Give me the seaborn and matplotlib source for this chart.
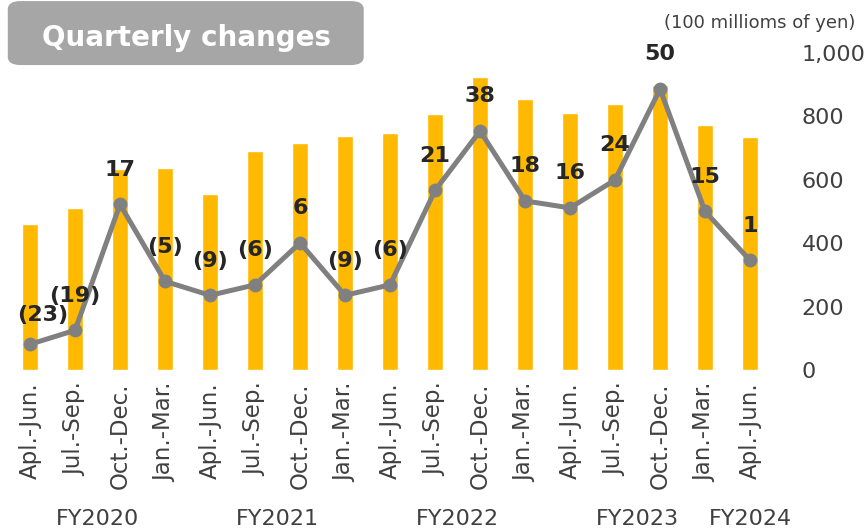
import pandas as pd
import matplotlib.pyplot as plt
import seaborn as sns
from matplotlib.patches import FancyBboxPatch

# Quarterly data (100 millions of yen)
quarters = ["Apl.-Jun.", "Jul.-Sep.", "Oct.-Dec.", "Jan.-Mar.",
            "Apl.-Jun.", "Jul.-Sep.", "Oct.-Dec.", "Jan.-Mar.",
            "Apl.-Jun.", "Jul.-Sep.", "Oct.-Dec.", "Jan.-Mar.",
            "Apl.-Jun.", "Jul.-Sep.", "Oct.-Dec.", "Jan.-Mar.",
            "Apl.-Jun."]
sales = [460, 512, 633, 638, 555, 691, 716, 739, 748,
         808, 923, 854, 812, 840, 899, 773, 734]
profit = [-23, -19, 17, -5, -9, -6, 6, -9, -6,
          21, 38, 18, 16, 24, 50, 15, 1]
fiscal_years = ["FY2020", "FY2021", "FY2022", "FY2023", "FY2024"]
fy_centers = [1.5, 5.5, 9.5, 13.5, 16]

df = pd.DataFrame({"idx": range(len(sales)), "sales": sales, "profit": profit})

sns.set_style("white")
plt.rcParams["font.family"] = ["DejaVu Sans"]

fig = plt.figure(figsize=(8.66, 5.29), dpi=100)
ax = fig.add_axes([0.0087, 0.3006, 0.8834, 0.5992])

sns.barplot(data=df, x="idx", y="sales", ax=ax, color="#FFB900",
            width=0.35, saturation=1)
ax.set_xlim(-0.5, 16.5)
ax.set_ylim(0, 1000)
ax.set_xlabel("")
ax.set_ylabel("")
ax.set_xticks(range(len(quarters)))
ax.set_xticklabels(quarters, rotation=90)
ax.tick_params(axis="x", length=0, pad=9, labelsize=16.5, labelcolor="#404040")
for s in ax.spines.values():
    s.set_visible(False)

# line on a hidden secondary axis
ax2 = ax.twinx()
sns.lineplot(data=df, x="idx", y="profit", ax=ax2, color="#808080",
             linewidth=3.6, marker="o", markersize=10, markeredgewidth=0)
ax2.set_ylim(-30.35, 60.3)
ax2.set_xlim(-0.5, 16.5)
ax2.set_yticks([])
ax2.set_xlabel("")
ax2.set_ylabel("")
for s in ax2.spines.values():
    s.set_visible(False)

# amount axis on the right
ax.yaxis.tick_right()
ax.set_yticks([0, 200, 400, 600, 800, 1000])
ax.set_yticklabels(["0", "200", "400", "600", "800", "1,000"])
ax.tick_params(axis="y", which="both", left=False, right=False,
               labelleft=False, labelright=True,
               pad=17.5, labelsize=16, labelcolor="#404040")

for i, v in enumerate(profit):
    label = f"({abs(v)})" if v < 0 else str(v)
    offset = (9, 21) if i == 0 else (0, 25)
    ax2.annotate(label, (i, v), xytext=offset, textcoords="offset points",
                 ha="center", va="center", fontsize=16, fontweight="bold",
                 color="#262626")

# fiscal year labels
for name, c in zip(fiscal_years, fy_centers):
    ax.text(c, (370 - 519) / 317, name, transform=ax.get_xaxis_transform(),
            ha="center", va="center", fontsize=16, color="#404040")

fig.text(0.988, 0.9565, "(100 millioms of yen)", ha="right", va="center",
         fontsize=13, color="#404040")

# title box
box = FancyBboxPatch((0.017, 0.885), 0.395, 0.105,
                     boxstyle="round,pad=0.008,rounding_size=0.015",
                     transform=fig.transFigure, facecolor="#A6A6A6",
                     edgecolor="none")
fig.patches.append(box)
fig.text(0.215, 0.929, "Quarterly changes", ha="center", va="center",
         fontsize=20, fontweight="bold", color="white")

plt.savefig("out.png")
plt.close()
